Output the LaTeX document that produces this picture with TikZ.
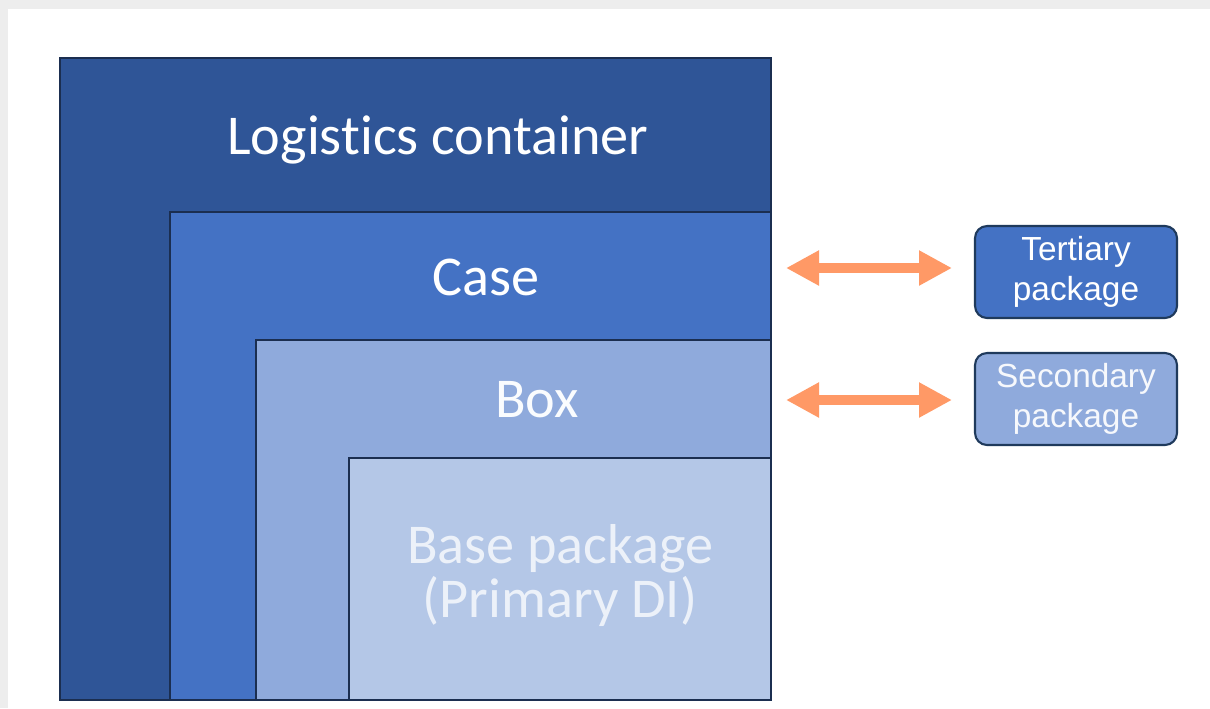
\documentclass[tikz,border=0pt]{standalone}
\usepackage{fontspec}
\setmainfont{Carlito}[Ligatures=NoCommon]
\newfontfamily\arialfont{Liberation Sans}
\usetikzlibrary{arrows.meta,positioning}

\definecolor{outerblue}{HTML}{2F5597}
\definecolor{caseblue}{HTML}{4472C4}
\definecolor{boxblue}{HTML}{8FAADC}
\definecolor{baseblue}{HTML}{B4C7E7}
\definecolor{edgenavy}{HTML}{1B2E50}
\definecolor{tagedge}{HTML}{1F3A5C}
\definecolor{arroworange}{HTML}{FF9966}

\tikzset{
  layer/.style={draw=edgenavy, line width=1.4pt},
  layertext/.style={text=white, font=\fontsize{32}{30.5}\selectfont, align=center, anchor=base},
  tag/.style={draw=tagedge, line width=1.2pt, rounded corners=0.24cm,
    minimum width=4.04cm, minimum height=1.84cm, align=center, inner sep=0pt,
    font=\arialfont\fontsize{19}{22.5}\selectfont},
  pkgarrow/.style={arroworange, line width=0.2cm,
    {Triangle[length=0.66cm, width=0.66cm]}-{Triangle[length=0.66cm, width=0.66cm]}}
}

\begin{document}
\begin{tikzpicture}[x=0.02cm, y=-0.02cm]
    % Frame
    \fill[black!7] (0,0) rectangle (1210,708);
    \fill[white] (8,9) rectangle (1210,708);
    \useasboundingbox (0,0) rectangle (1210,708);

    % Layers
    \foreach \lx/\ly/\col in {60/58/outerblue, 170/212/caseblue, 256/340/boxblue, 349/458/baseblue}
        \filldraw[layer, fill=\col] (\lx,\ly) rectangle (771,700);

    % Text
    \node[layertext] (logistics) at (438,154) {Logistics container};
    \node[layertext] (case) at (486,295) {Case};
    \node[layertext, text=white!96!boxblue] (box) at (537,417) {Box};
    \node[layertext, text=white!75!baseblue] (base) at (560,617) {Base package\\(Primary DI)};

    % Package tags
    \node[tag, fill=caseblue, text=white] (tertiary) at (1076,272) {Tertiary\\package};
    \node[tag, fill=boxblue, text=white!92!boxblue] (secondary) at (1076,399) {Secondary\\package};

    % Arrows
    \coordinate (caseR) at (786,268);
    \coordinate (tertiaryL) at (952,268);
    \coordinate (boxR) at (786,400);
    \coordinate (secondaryL) at (952,400);
    \draw[pkgarrow] (caseR) -- (tertiaryL);
    \draw[pkgarrow] (boxR) -- (secondaryL);
\end{tikzpicture}
\end{document}
